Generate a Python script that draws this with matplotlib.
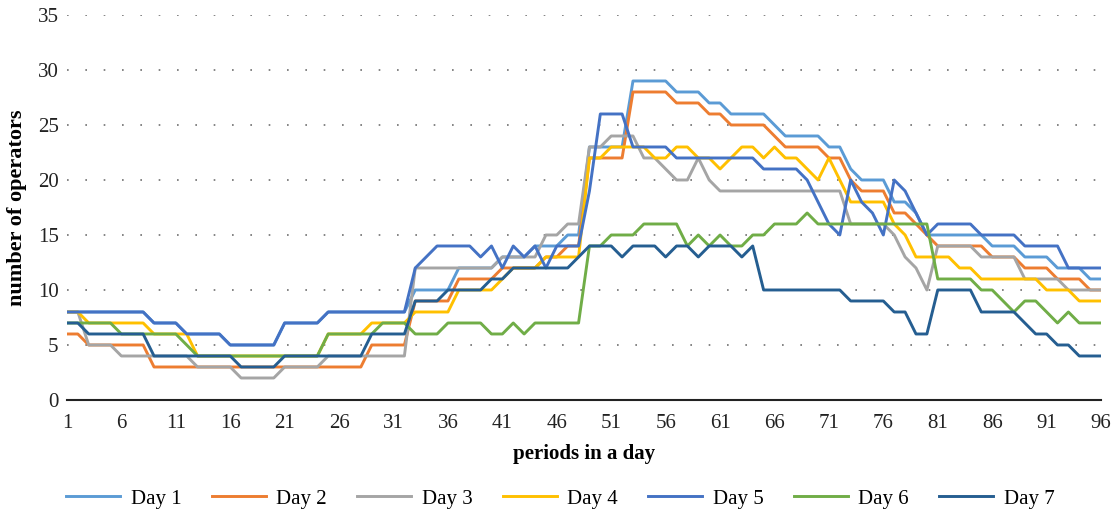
import numpy as np
import matplotlib
matplotlib.use('Agg')
import matplotlib.pyplot as plt

periods = np.arange(1, 97)

day1 = ([8]*8 + [7]*3 + [6]*4 + [5]*5 + [7]*4 + [8]*8
        + [10]*4 + [12]*4 + [13]*3 + [14]*3 + [15]*2
        + [23]*4 + [29]*4 + [28]*3 + [27]*2 + [26]*4 + [25] + [24]*4 + [23]*2
        + [21] + [20]*3 + [18]*2 + [17] + [15]*6 + [14]*3 + [13]*3 + [12]*3 + [11]*2)
day2 = ([6]*2 + [5]*6 + [3]*20 + [5]*4
        + [9]*4 + [11]*4 + [12]*4 + [13]*2 + [14]*2
        + [22]*4 + [28]*4 + [27]*3 + [26]*2 + [25]*4 + [24] + [23]*4 + [22]*2
        + [20] + [19]*3 + [17]*2 + [16] + [15] + [14]*5 + [13]*3 + [12]*3 + [11]*3 + [10]*2)
day3 = ([8]*2 + [5]*3 + [4]*7 + [3]*4 + [2]*4 + [3]*4 + [4]*8
        + [12]*8 + [13]*4 + [15]*2 + [16]*2
        + [23]*2 + [24]*3 + [22]*2 + [21] + [20]*2 + [22] + [20] + [19]*12
        + [16]*4 + [15] + [13] + [12] + [10] + [14]*4 + [13]*4 + [11]*4 + [10]*4)
day4 = ([8]*2 + [7]*6 + [6]*4 + [4]*12 + [6]*4 + [7]*4
        + [8]*4 + [10]*4 + [11] + [12]*3 + [13]*4
        + [22]*2 + [23]*4 + [22]*2 + [23]*2 + [22]*2 + [21] + [22] + [23]*2 + [22] + [23]
        + [22]*2 + [21] + [20] + [22] + [20]
        + [18]*4 + [16] + [15] + [13]*4 + [12]*2 + [11]*6 + [10]*3 + [9]*3)
day5 = ([8]*8 + [7]*3 + [6]*4 + [5]*5 + [7]*4 + [8]*8
        + [12, 13, 14, 14, 14, 14, 13, 14, 12, 14, 13, 14, 12, 14, 14, 14]
        + [19] + [26]*3 + [23]*4 + [22]*8 + [21]*4
        + [20, 18, 16, 15, 20, 18, 17, 15, 20, 19, 17, 15]
        + [16]*4 + [15]*4 + [14]*4 + [12]*4)
day6 = ([7]*5 + [6]*6 + [5] + [4]*12 + [6]*5 + [7]*3
        + [6]*3 + [7]*4 + [6]*2 + [7] + [6] + [7]*5
        + [14]*2 + [15]*3 + [16]*4 + [14, 15, 14, 15, 14, 14, 15, 15] + [16]*3 + [17] + [16]*11
        + [11]*4 + [10]*2 + [9, 8, 9, 9, 8, 7, 8] + [7]*3)
day7 = ([7]*2 + [6]*6 + [4]*8 + [3]*4 + [4]*8 + [6]*4
        + [9]*3 + [10]*4 + [11]*2 + [12]*6 + [13]
        + [14]*3 + [13] + [14]*3 + [13] + [14]*2 + [13] + [14]*3 + [13] + [14]
        + [10]*8 + [9]*4 + [8]*2 + [6]*2 + [10]*4 + [8]*4 + [7] + [6]*2 + [5]*2 + [4]*3)

series = [day1, day2, day3, day4, day5, day6, day7]
labels = ['Day 1', 'Day 2', 'Day 3', 'Day 4', 'Day 5', 'Day 6', 'Day 7']
colors = ['#5B9BD5', '#ED7D31', '#A5A5A5', '#FFC000', '#4472C4', '#70AD47', '#255E91']

plt.rcParams['font.family'] = ['Liberation Serif', 'DejaVu Serif']

fig = plt.figure(figsize=(11.16, 5.13), dpi=100)
ax = fig.add_axes([0.060, 0.2203, 0.9266, 0.7505])

for vals, lab, col in zip(series, labels, colors):
    ax.plot(periods, vals, color=col, lw=2.1, label=lab)

ax.set_xlim(1, 96)
ax.set_ylim(0, 35)
ax.set_xticks(np.arange(1, 97, 5))
ax.set_yticks(np.arange(0, 36, 5))
ax.tick_params(axis='both', length=0, labelsize=15, colors='#222222')
ax.tick_params(axis='x', pad=10)
ax.tick_params(axis='y', pad=6)

# dotted horizontal gridlines
for y in range(5, 36, 5):
    ax.axhline(y, color='#707070', lw=1.2, linestyle=(0, (1, 10)), zorder=0)

for s in ['top', 'right', 'left']:
    ax.spines[s].set_visible(False)
ax.spines['bottom'].set_color('#222222')
ax.spines['bottom'].set_linewidth(1.5)

ax.set_xlabel('periods in a day', fontsize=15, fontweight='bold', labelpad=8)
ax.set_ylabel('number of operators', fontsize=16, fontweight='bold', labelpad=8)

fig.legend(loc='lower center', bbox_to_anchor=(0.502, -0.028), ncol=7, frameon=False,
           fontsize=15, handlelength=2.6, handletextpad=0.5, columnspacing=1.45)

fig.savefig('out.png', dpi=100)
